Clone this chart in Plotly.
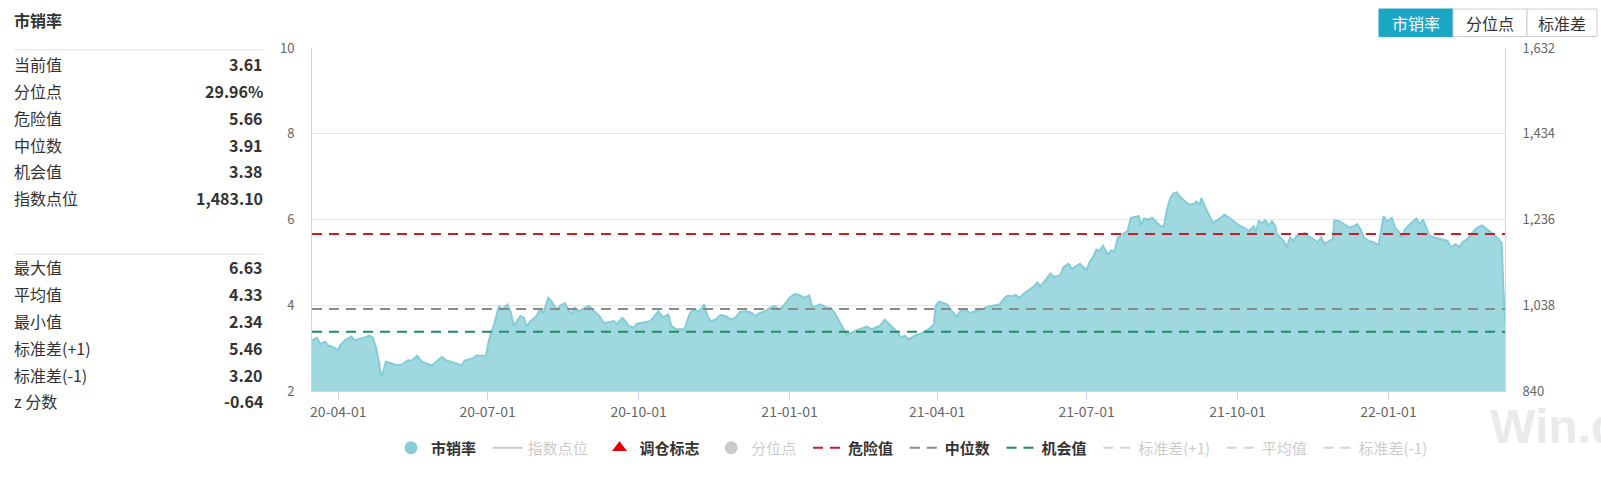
import plotly.graph_objects as go

# 市销率 series
dates = [
    '2020-03-16', '2020-03-19', '2020-03-21', '2020-03-24', '2020-03-26', '2020-03-29', '2020-04-01', '2020-04-02',
    '2020-04-05', '2020-04-09', '2020-04-11', '2020-04-14', '2020-04-17', '2020-04-20', '2020-04-22', '2020-04-24',
    '2020-04-26', '2020-04-27', '2020-04-28', '2020-04-30', '2020-05-03', '2020-05-07', '2020-05-10', '2020-05-13',
    '2020-05-16', '2020-05-19', '2020-05-22', '2020-05-25', '2020-05-28', '2020-05-30', '2020-06-03', '2020-06-06',
    '2020-06-09', '2020-06-12', '2020-06-15', '2020-06-17', '2020-06-20', '2020-06-22', '2020-06-24', '2020-06-27',
    '2020-06-30', '2020-07-02', '2020-07-05', '2020-07-08', '2020-07-10', '2020-07-13', '2020-07-15', '2020-07-17',
    '2020-07-19', '2020-07-21', '2020-07-23', '2020-07-25', '2020-07-27', '2020-07-30', '2020-08-02', '2020-08-04',
    '2020-08-07', '2020-08-09', '2020-08-12', '2020-08-14', '2020-08-17', '2020-08-18', '2020-08-21', '2020-08-23',
    '2020-08-26', '2020-08-29', '2020-09-01', '2020-09-04', '2020-09-07', '2020-09-10', '2020-09-13', '2020-09-16',
    '2020-09-18', '2020-09-21', '2020-09-23', '2020-09-25', '2020-09-28', '2020-09-30', '2020-10-04', '2020-10-08',
    '2020-10-10', '2020-10-13', '2020-10-16', '2020-10-19', '2020-10-21', '2020-10-24', '2020-10-29', '2020-11-01',
    '2020-11-03', '2020-11-07', '2020-11-10', '2020-11-12', '2020-11-14', '2020-11-17', '2020-11-20', '2020-11-23',
    '2020-11-26', '2020-11-29', '2020-12-02', '2020-12-06', '2020-12-09', '2020-12-11', '2020-12-14', '2020-12-17',
    '2020-12-20', '2020-12-23', '2020-12-26', '2020-12-29', '2021-01-01', '2021-01-04', '2021-01-07', '2021-01-10',
    '2021-01-13', '2021-01-15', '2021-01-17', '2021-01-20', '2021-01-23', '2021-01-26', '2021-01-29', '2021-02-01',
    '2021-02-03', '2021-02-05', '2021-02-08', '2021-02-11', '2021-02-14', '2021-02-17', '2021-02-20', '2021-02-23',
    '2021-02-25', '2021-02-28', '2021-03-03', '2021-03-06', '2021-03-10', '2021-03-12', '2021-03-15', '2021-03-18',
    '2021-03-22', '2021-03-25', '2021-03-28', '2021-03-30', '2021-03-31', '2021-04-02', '2021-04-05', '2021-04-07',
    '2021-04-09', '2021-04-11', '2021-04-13', '2021-04-15', '2021-04-18', '2021-04-21', '2021-04-24', '2021-04-27',
    '2021-04-30', '2021-05-03', '2021-05-06', '2021-05-09', '2021-05-12', '2021-05-14', '2021-05-17', '2021-05-19',
    '2021-05-21', '2021-05-24', '2021-05-27', '2021-05-30', '2021-06-01', '2021-06-03', '2021-06-06', '2021-06-09',
    '2021-06-11', '2021-06-15', '2021-06-17', '2021-06-20', '2021-06-22', '2021-06-25', '2021-06-27', '2021-06-29',
    '2021-07-01', '2021-07-03', '2021-07-05', '2021-07-07', '2021-07-09', '2021-07-11', '2021-07-14', '2021-07-16',
    '2021-07-18', '2021-07-20', '2021-07-22', '2021-07-24', '2021-07-26', '2021-07-28', '2021-07-30', '2021-08-02',
    '2021-08-03', '2021-08-05', '2021-08-08', '2021-08-10', '2021-08-12', '2021-08-15', '2021-08-17', '2021-08-19',
    '2021-08-21', '2021-08-23', '2021-08-25', '2021-08-27', '2021-08-30', '2021-09-02', '2021-09-05', '2021-09-06',
    '2021-09-08', '2021-09-09', '2021-09-11', '2021-09-13', '2021-09-16', '2021-09-18', '2021-09-21', '2021-09-23',
    '2021-09-26', '2021-09-29', '2021-10-02', '2021-10-05', '2021-10-08', '2021-10-11', '2021-10-12', '2021-10-14',
    '2021-10-16', '2021-10-18', '2021-10-20', '2021-10-22', '2021-10-24', '2021-10-25', '2021-10-27', '2021-10-29',
    '2021-10-31', '2021-11-02', '2021-11-04', '2021-11-06', '2021-11-09', '2021-11-11', '2021-11-13', '2021-11-16',
    '2021-11-19', '2021-11-21', '2021-11-23', '2021-11-26', '2021-11-28', '2021-11-29', '2021-12-02', '2021-12-05',
    '2021-12-08', '2021-12-11', '2021-12-13', '2021-12-15', '2021-12-17', '2021-12-20', '2021-12-23', '2021-12-26',
    '2021-12-29', '2021-12-31', '2022-01-03', '2022-01-05', '2022-01-07', '2022-01-09', '2022-01-11', '2022-01-14',
    '2022-01-18', '2022-01-20', '2022-01-22', '2022-01-24', '2022-01-26', '2022-01-29', '2022-02-02', '2022-02-06',
    '2022-02-08', '2022-02-11', '2022-02-13', '2022-02-15', '2022-02-18', '2022-02-21', '2022-02-24', '2022-02-27',
    '2022-03-02', '2022-03-05', '2022-03-07', '2022-03-09', '2022-03-11', '2022-03-12', '2022-03-13',
]
ps_ratio = [
    3.18, 3.24, 3.10, 3.15, 3.06, 3.02, 2.95, 3.06,
    3.18, 3.27, 3.18, 3.21, 3.25, 3.29, 3.25, 3.02,
    2.64, 2.34, 2.41, 2.68, 2.64, 2.60, 2.62, 2.71,
    2.71, 2.82, 2.68, 2.64, 2.60, 2.66, 2.79, 2.71,
    2.68, 2.64, 2.59, 2.71, 2.74, 2.76, 2.83, 2.82,
    2.83, 3.21, 3.56, 3.98, 3.90, 4.02, 3.86, 3.52,
    3.63, 3.75, 3.71, 3.50, 3.63, 3.71, 3.90, 3.82,
    4.17, 4.09, 3.90, 3.98, 4.05, 3.98, 3.79, 3.94,
    3.86, 3.94, 3.98, 3.86, 3.75, 3.58, 3.60, 3.63,
    3.56, 3.71, 3.63, 3.52, 3.48, 3.57, 3.60, 3.63,
    3.71, 3.86, 3.71, 3.79, 3.52, 3.44, 3.44, 3.79,
    3.90, 3.86, 4.02, 3.75, 3.63, 3.67, 3.77, 3.75,
    3.67, 3.71, 3.85, 3.86, 3.82, 3.75, 3.82, 3.86,
    3.94, 3.98, 3.90, 4.02, 4.17, 4.26, 4.24, 4.17,
    4.23, 3.94, 3.98, 4.02, 3.95, 3.94, 3.79, 3.60,
    3.44, 3.31, 3.37, 3.42, 3.46, 3.50, 3.44, 3.48,
    3.52, 3.66, 3.56, 3.44, 3.25, 3.29, 3.20, 3.29,
    3.34, 3.40, 3.48, 3.56, 3.98, 4.09, 4.05, 4.02,
    3.90, 3.82, 3.73, 3.86, 3.90, 3.82, 3.86, 3.88,
    3.94, 3.98, 4.00, 4.02, 4.17, 4.22, 4.21, 4.24,
    4.17, 4.28, 4.36, 4.44, 4.53, 4.44, 4.59, 4.74,
    4.66, 4.70, 4.89, 4.97, 4.85, 4.93, 4.97, 4.89,
    4.82, 5.02, 5.12, 5.30, 5.27, 5.39, 5.18, 5.28,
    5.25, 5.58, 5.63, 5.69, 5.73, 6.04, 6.06, 6.08,
    5.85, 6.02, 6.00, 6.04, 5.96, 5.85, 5.83, 6.23,
    6.50, 6.61, 6.63, 6.53, 6.42, 6.34, 6.38, 6.42,
    6.34, 6.50, 6.31, 6.15, 5.92, 5.96, 6.04, 6.11,
    6.04, 5.94, 5.86, 5.81, 5.73, 5.85, 5.69, 5.96,
    5.92, 5.98, 5.85, 5.96, 5.85, 5.66, 5.58, 5.50,
    5.35, 5.58, 5.50, 5.62, 5.66, 5.69, 5.62, 5.54,
    5.47, 5.58, 5.43, 5.50, 5.54, 5.98, 5.96, 5.89,
    5.81, 5.85, 5.89, 5.77, 5.58, 5.50, 5.47, 5.40,
    6.08, 5.96, 6.04, 5.81, 5.73, 5.58, 5.77, 5.89,
    6.02, 5.89, 6.00, 5.81, 5.62, 5.58, 5.54, 5.50,
    5.35, 5.43, 5.35, 5.47, 5.54, 5.69, 5.81, 5.86,
    5.77, 5.69, 5.62, 5.54, 5.45, 4.40, 3.61,
]

danger_value = 5.66
median_value = 3.91
chance_value = 3.38
mean_value = 4.33
std_plus = 5.46
std_minus = 3.20

stat_labels_1 = ['当前值', '分位点', '危险值', '中位数', '机会值', '指数点位']
stat_values_1 = ['3.61', '29.96%', '5.66', '3.91', '3.38', '1,483.10']
stat_labels_2 = ['最大值', '平均值', '最小值', '标准差(+1)', '标准差(-1)', 'z 分数']
stat_values_2 = ['6.63', '4.33', '2.34', '5.46', '3.20', '-0.64']

left_ticks = [2, 4, 6, 8, 10]
right_ticks = [840, 1038, 1236, 1434, 1632]
tab_labels = ['市销率', '分位点', '标准差']

FONT = 'Noto Sans CJK SC, Noto Sans, sans-serif'
W, H = 1601, 477
L, R, T, B = 312, 1505, 48, 409
GAP = '\u00a0\u00a0'
ROW = 28.2


def px(x):
    return (x - L) / (R - L)


def py(y):
    return (B - y) / (B - T)


def on(name):
    return '<b>%s</b>%s' % (name, GAP)


def off(name, last=False):
    return '<span style="color:#999">%s</span>%s' % (name, '' if last else GAP)


fig = go.Figure()

fig.add_trace(go.Scatter(
    x=dates, y=ps_ratio, mode='lines', fill='tozeroy',
    line=dict(color='#84ccd7', width=2), fillcolor='#a0d8e0',
    showlegend=False, hoverinfo='x+y'))

# legend entries
fig.add_trace(go.Scatter(x=[None], y=[None], mode='markers', name=on('市销率'),
                         marker=dict(symbol='circle', size=13, color='#86cdd8')))
fig.add_trace(go.Scatter(x=[None], y=[None], mode='lines', name=off('指数点位'),
                         line=dict(color='#999', width=2), yaxis='y2', visible='legendonly'))
fig.add_trace(go.Scatter(x=[None], y=[None], mode='markers', name=on('调仓标志'),
                         marker=dict(symbol='triangle-up', size=13, color='#e60000')))
fig.add_trace(go.Scatter(x=[None], y=[None], mode='markers', name=off('分位点'),
                         marker=dict(symbol='circle', size=13, color='#999'), visible='legendonly'))

span = [dates[0], dates[-1]]
for name, val, col, vis in [
    (on('危险值'), danger_value, '#c81e28', True),
    (on('中位数'), median_value, '#8a8a8a', True),
    (on('机会值'), chance_value, '#1e8c64', True),
    (off('标准差(+1)'), std_plus, '#aaa', 'legendonly'),
    (off('平均值'), mean_value, '#aaa', 'legendonly'),
    (off('标准差(-1)', last=True), std_minus, '#aaa', 'legendonly'),
]:
    fig.add_trace(go.Scatter(x=span, y=[val, val], mode='lines', name=name, visible=vis,
                             line=dict(color=col, width=2, dash='10px,7px'), hoverinfo='skip'))

shapes = []
annotations = []

# left statistics panel
annotations.append(dict(x=px(12), y=py(19), xref='paper', yref='paper', text='<b>市销率</b>',
                        showarrow=False, xanchor='left', yanchor='middle',
                        font=dict(size=16, color='#333', family=FONT)))
for sep, y0, labels, values in [(50, 65, stat_labels_1, stat_values_1), (265, 279, stat_labels_2, stat_values_2)]:
    shapes.append(dict(type='line', xref='paper', yref='paper', x0=px(14), x1=px(263),
                       y0=py(sep), y1=py(sep), line=dict(color='#dcdcdc', width=1)))
    for i, (lab, val) in enumerate(zip(labels, values)):
        yy = py(y0 + ROW * i)
        annotations.append(dict(x=px(12), y=yy, xref='paper', yref='paper', text=lab, showarrow=False,
                                xanchor='left', yanchor='middle', font=dict(size=16, color='#333', family=FONT)))
        annotations.append(dict(x=px(265), y=yy, xref='paper', yref='paper', text='<b>%s</b>' % val,
                                showarrow=False, xanchor='right', yanchor='middle',
                                font=dict(size=16, color='#333', family=FONT)))

# tab buttons at top right
tab_edges = [1379, 1453, 1527, 1597]
for i, lab in enumerate(tab_labels):
    active = i == 0
    shapes.append(dict(type='rect', xref='paper', yref='paper',
                       x0=px(tab_edges[i]), x1=px(tab_edges[i + 1]), y0=py(36), y1=py(7),
                       fillcolor='#1ba6c6' if active else 'white',
                       line=dict(color='#1ba6c6' if active else '#cccccc', width=1)))
    annotations.append(dict(x=px((tab_edges[i] + tab_edges[i + 1]) / 2), y=py(21.5), xref='paper', yref='paper',
                            text=lab, showarrow=False, xanchor='center', yanchor='middle',
                            font=dict(size=16, color='white' if active else '#333', family=FONT)))

# watermark
annotations.append(dict(x=px(1488), y=py(416), xref='paper', yref='paper', text='<b>Win.d</b>',
                        showarrow=False, xanchor='left', yanchor='top',
                        font=dict(size=48, color='#eaeaea',
                                  family='Liberation Sans Narrow, Liberation Sans, Arial, sans-serif')))

fig.update_layout(
    width=W, height=H,
    margin=dict(l=L, r=W - R, t=T, b=H - B, pad=0),
    paper_bgcolor='white', plot_bgcolor='white',
    font=dict(family=FONT, color='#333'),
    xaxis=dict(type='date', range=[dates[0], dates[-1]], tick0='2020-04-01', dtick='M3',
               tickformat='%y-%m-%d', ticks='outside', ticklen=8, tickcolor='#ccd6eb',
               showgrid=False, showline=True, linecolor='#ccd6eb', zeroline=False,
               tickfont=dict(size=14, color='#666', family=FONT)),
    yaxis=dict(range=[2, 10], tickvals=left_ticks, showgrid=True, gridcolor='#e6e6e6',
               showline=True, linecolor='#ccd6eb', zeroline=False, ticklabelstandoff=14,
               tickfont=dict(size=13, color='#666', family=FONT)),
    yaxis2=dict(range=[840, 1632], tickvals=right_ticks, tickformat=',', overlaying='y', side='right',
                showgrid=False, showline=True, linecolor='#ccd6eb', zeroline=False, ticklabelstandoff=14,
                tickfont=dict(size=13, color='#666', family=FONT)),
    legend=dict(orientation='h', x=px(912), xanchor='center', y=py(469), yanchor='middle',
                font=dict(size=15, color='#333', family=FONT), bgcolor='rgba(0,0,0,0)'),
    shapes=shapes,
    annotations=annotations,
)

# the page's default body margin would shift the figure by 8px
fig.write_html('out.html', config={'displayModeBar': False},
               post_script="document.body.style.margin='0';document.body.style.overflow='hidden';")
